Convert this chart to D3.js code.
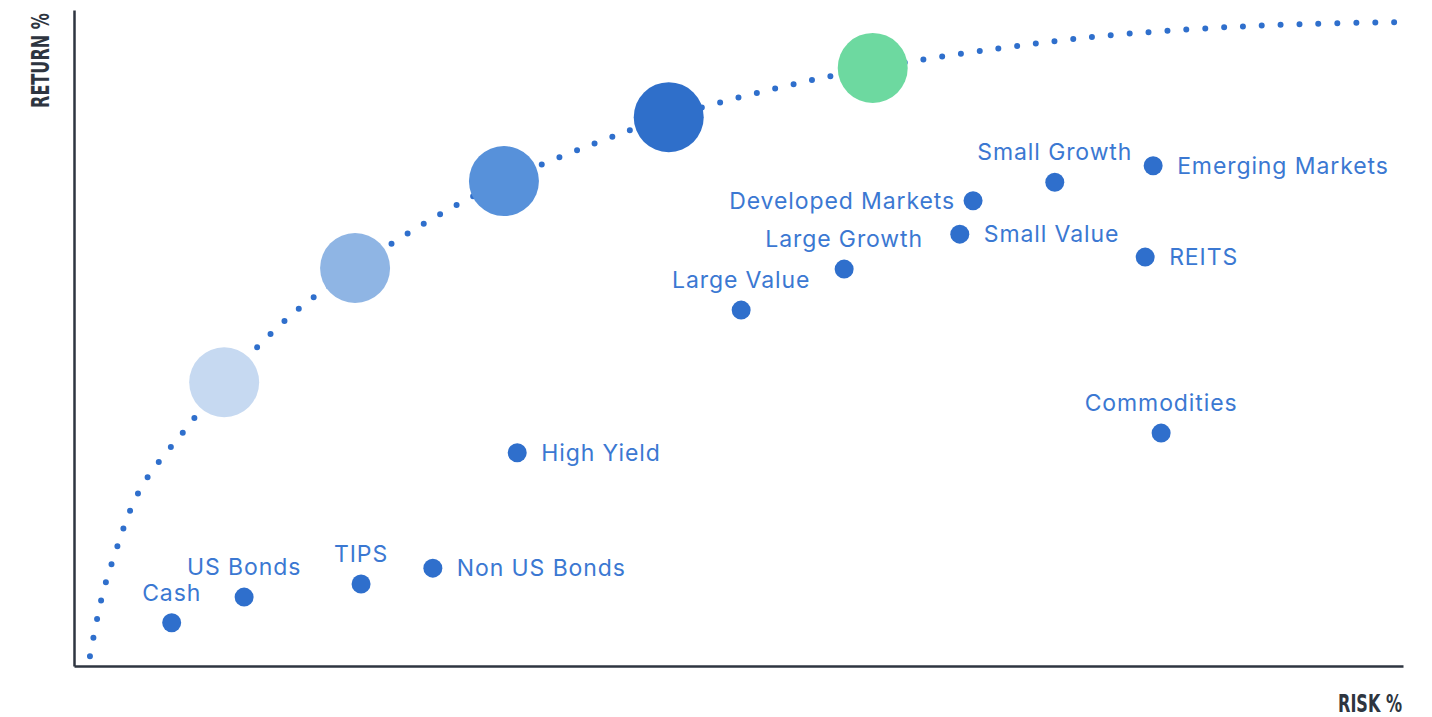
<!DOCTYPE html>
<html>
<head>
<meta charset="utf-8">
<script src="https://cdn.jsdelivr.net/npm/d3@7"></script>
<style>
  html, body { margin: 0; padding: 0; background: #ffffff; }
  svg { display: block; }
</style>
</head>
<body>
<svg id="chart" width="1432" height="717"></svg>
<script>
// ---- data ----
const assetNames = ["Cash", "US Bonds", "TIPS", "Non US Bonds", "High Yield", "Large Value", "Large Growth",
  "Developed Markets", "Small Value", "Small Growth", "Emerging Markets", "REITS", "Commodities"];
const assetRisk = [1.47, 2.56, 4.32, 5.40, 6.67, 10.04, 11.59, 13.53, 13.33, 14.76, 16.24, 16.12, 16.36];
const assetReturn = [0.79, 1.26, 1.50, 1.79, 3.90, 6.51, 7.26, 8.51, 7.90, 8.85, 9.15, 7.48, 4.26];
const labelSide = ["above", "above", "above", "right", "right", "above", "above", "left", "right", "above", "right", "right", "above"];

const frontierRisk = [0.24, 0.41, 0.57, 0.99, 1.67, 2.26, 3.25, 4.23, 5.36, 6.47, 7.77, 8.95, 10.47, 12.02, 13.94, 15.44, 17.13, 18.45, 20.0];
const frontierReturn = [0.18, 1.21, 1.88, 3.22, 4.32, 5.19, 6.40, 7.28, 8.16, 8.87, 9.53, 10.04, 10.54, 10.94, 11.30, 11.52, 11.67, 11.74, 11.78];

const portfolioRisk = [2.26, 4.23, 6.47, 8.95, 12.02];
const portfolioReturn = [5.19, 7.28, 8.87, 10.04, 10.94];
const portfolioColors = ["#c6d9f1", "#8fb5e4", "#5791da", "#2f6fca", "#6dd9a0"];

const xAxisLabel = "RISK %";
const yAxisLabel = "RETURN %";

// ---- chart ----
const svg = d3.select("#chart");
const x = d3.scaleLinear().domain([0, 20]).range([74, 1403]);
const y = d3.scaleLinear().domain([0, 12]).range([666, 10]);

const axisColor = "#2e3540";
const dotColor = "#2f6fcc";
const textColor = "#3b78d2";

// axes (no ticks)
const gx = svg.append("g").attr("transform", `translate(0,${y(0)})`)
  .call(d3.axisBottom(x).tickValues([]).tickSizeOuter(0));
const gy = svg.append("g").attr("transform", `translate(${x(0)},0)`)
  .call(d3.axisLeft(y).tickValues([]).tickSizeOuter(0));
[gx, gy].forEach(g => g.select(".domain").attr("stroke", axisColor).attr("stroke-width", 2.5));

// frontier dotted curve
const frontier = frontierRisk.map((r, i) => [r, frontierReturn[i]]);
const line = d3.line().x(d => x(d[0])).y(d => y(d[1])).curve(d3.curveCatmullRom.alpha(0.5));
svg.append("path")
  .attr("d", line(frontier))
  .attr("fill", "none")
  .attr("stroke", dotColor)
  .attr("stroke-width", 6)
  .attr("stroke-linecap", "round")
  .attr("stroke-dasharray", "0 18.9");

// portfolio circles
svg.append("g").selectAll("circle")
  .data(portfolioRisk.map((r, i) => ({ r, ret: portfolioReturn[i], c: portfolioColors[i] })))
  .join("circle")
  .attr("cx", d => x(d.r))
  .attr("cy", d => y(d.ret))
  .attr("r", 35)
  .attr("fill", d => d.c);

// asset points
const assets = assetNames.map((n, i) => ({ name: n, risk: assetRisk[i], ret: assetReturn[i], side: labelSide[i] }));
svg.append("g").selectAll("circle")
  .data(assets)
  .join("circle")
  .attr("cx", d => x(d.risk))
  .attr("cy", d => y(d.ret))
  .attr("r", 9.5)
  .attr("fill", dotColor);

svg.append("g").selectAll("text")
  .data(assets)
  .join("text")
  .attr("x", d => x(d.risk) + (d.side === "right" ? 24 : d.side === "left" ? -18 : 0))
  .attr("y", d => y(d.ret) + (d.side === "above" ? -22 : 8))
  .attr("text-anchor", d => d.side === "right" ? "start" : d.side === "left" ? "end" : "middle")
  .attr("font-family", "Inter, 'Noto Sans', sans-serif")
  .attr("font-size", 23)
  .attr("letter-spacing", "0.9px")
  .attr("fill", textColor)
  .text(d => d.name);

// axis titles (condensed by a horizontal glyph scale)
const titleFont = "'Liberation Sans Narrow', 'DejaVu Sans Condensed', sans-serif";
const xt = svg.append("text")
  .attr("text-anchor", "end")
  .attr("font-family", titleFont)
  .attr("font-weight", "bold")
  .attr("font-size", 25)
  .attr("fill", axisColor)
  .text(xAxisLabel);
const xw = xt.node().getComputedTextLength();
xt.attr("transform", `translate(1402,712) scale(${64 / xw},1)`);

const yt = svg.append("text")
  .attr("text-anchor", "start")
  .attr("font-family", titleFont)
  .attr("font-weight", "bold")
  .attr("font-size", 25)
  .attr("fill", axisColor)
  .text(yAxisLabel);
const yw = yt.node().getComputedTextLength();
yt.attr("transform", `translate(49,108) rotate(-90) scale(${95 / yw},1)`);
</script>
</body>
</html>
